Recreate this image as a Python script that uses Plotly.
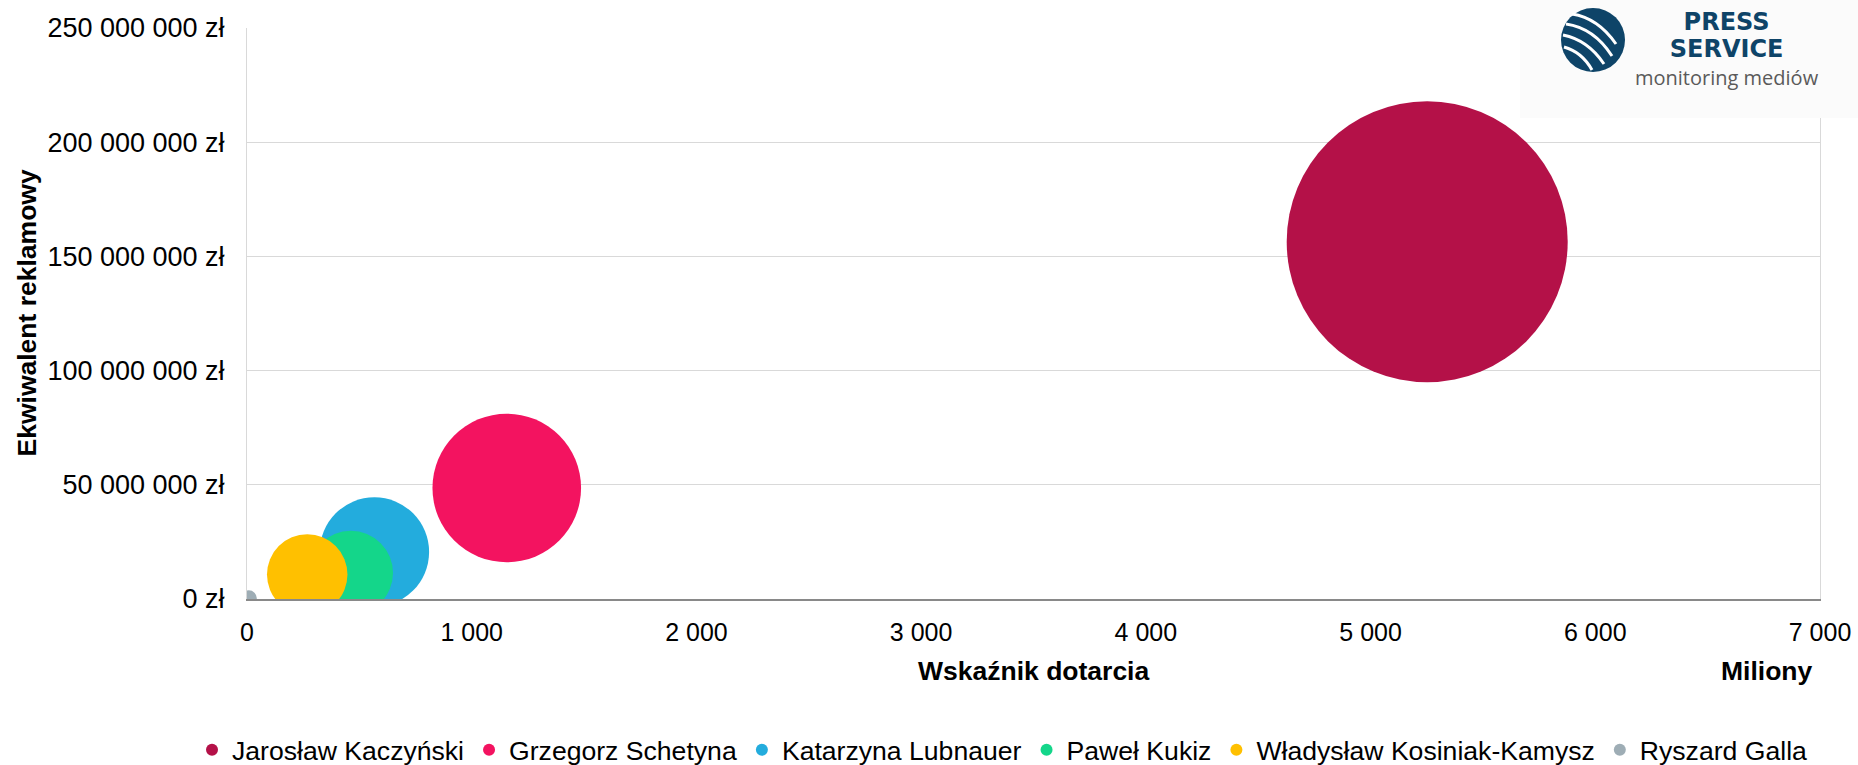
import plotly.graph_objects as go

# ---- data ----
politycy = ["Jarosław Kaczyński", "Grzegorz Schetyna", "Katarzyna Lubnauer",
            "Paweł Kukiz", "Władysław Kosiniak-Kamysz", "Ryszard Galla"]
wskaznik_dotarcia_mln = [5252, 1156, 567, 462, 268, 8]          # x, in millions
ekwiwalent_zl = [156_400_000, 48_600_000, 20_600_000, 11_400_000, 10_700_000, 300_000]
wielkosc_babla = [19740, 5520, 2990, 1780, 1620, 64]             # bubble size (area)
kolory = ["#B41148", "#F31360", "#23ACDD", "#14D68A", "#FFC000", "#9EADB5"]

x_ticks = [0, 1000, 2000, 3000, 4000, 5000, 6000, 7000]
y_ticks = [0, 50_000_000, 100_000_000, 150_000_000, 200_000_000, 250_000_000]


def fmt(v):
    return f"{v:,}".replace(",", " ")


x_ticktext = [fmt(v) for v in x_ticks]
y_ticktext = [fmt(v) + " zł" for v in y_ticks]

W, H = 1858, 765
ML, MR, MT, MB = 247, 38, 28, 166
PW, PH = W - ML - MR, H - MT - MB


def px(x):  # pixel -> paper x
    return (x - ML) / PW


def py(y):  # pixel -> paper y
    return (H - MB - y) / PH


FONT = "Liberation Sans, Arial, sans-serif"

fig = go.Figure()
for name, xv, yv, s, c in zip(politycy, wskaznik_dotarcia_mln, ekwiwalent_zl,
                              wielkosc_babla, kolory):
    fig.add_trace(go.Scatter(
        x=[xv], y=[yv], name=name, mode="markers",
        marker=dict(size=[s], sizemode="area", sizeref=0.5, color=c,
                    line=dict(width=0), opacity=1),
        cliponaxis=True, hoverinfo="skip"))

fig.update_layout(
    width=W, height=H,
    margin=dict(l=ML, r=MR, t=MT, b=MB, pad=0, autoexpand=False),
    paper_bgcolor="white", plot_bgcolor="white",
    font=dict(family=FONT, size=26, color="#000000"),
    showlegend=True,
    legend=dict(orientation="h", x=px(192), xanchor="left", y=py(750), yanchor="middle",
                font=dict(family=FONT, size=26.6, color="#000"), itemsizing="constant",
                bgcolor="rgba(0,0,0,0)", traceorder="normal"),
    xaxis=dict(range=[0, 7000], tickmode="array", tickvals=x_ticks, ticktext=x_ticktext,
               showgrid=False, zeroline=False, showline=True, linecolor="#898989",
               linewidth=2, ticks="", ticklabelstandoff=10,
               tickfont=dict(family=FONT, size=25, color="#000")),
    yaxis=dict(range=[0, 250_000_000], tickmode="array", tickvals=y_ticks,
               ticktext=y_ticktext,
               showgrid=True, gridcolor="#D9D9D9", gridwidth=1, zeroline=False,
               showline=True, linecolor="#D9D9D9", linewidth=1, mirror=True,
               ticks="", ticklabelstandoff=16,
               tickfont=dict(family=FONT, size=27, color="#000")),
)

ann = [
    dict(text="<b>Ekwiwalent reklamowy</b>", x=px(26), y=0.5, textangle=-90),
    dict(text="<b>Wskaźnik dotarcia</b>", x=0.5, y=py(671)),
    dict(text="<b>Miliony</b>", x=px(1767), y=py(671)),
]
for a in ann:
    fig.add_annotation(xref="paper", yref="paper", showarrow=False,
                       xanchor="center", yanchor="middle",
                       font=dict(family=FONT, size=26.5, color="#000"), **a)

# ---- logo box (Press Service) ----
fig.add_shape(type="rect", xref="paper", yref="paper", layer="above",
              x0=px(1520), x1=px(1858), y0=py(118), y1=py(0),
              fillcolor="#FBFBFB", line=dict(width=0))
cx, cy, r = 1593, 40, 32
fig.add_shape(type="circle", xref="paper", yref="paper", layer="above",
              x0=px(cx - r), x1=px(cx + r), y0=py(cy + r), y1=py(cy - r),
              fillcolor="#0E4468", line=dict(width=0))
stripes = [((1572, 14), (1598, 18), (1616, 44)),
           ((1566, 24), (1594, 28), (1612, 56)),
           ((1563, 35), (1588, 40), (1604, 64)),
           ((1564, 47), (1582, 52), (1592, 70))]
for (a0, ctrl, a1) in stripes:
    path = (f"M {px(a0[0])} {py(a0[1])} Q {px(ctrl[0])} {py(ctrl[1])} "
            f"{px(a1[0])} {py(a1[1])}")
    fig.add_shape(type="path", xref="paper", yref="paper", layer="above",
                  path=path, line=dict(color="white", width=3))

logo_text = ("<b><span style='font-size:24px'>PRESS</span></b><br>"
             "<b><span style='font-size:24px'>SERVICE</span></b><br>"
             "<span style='font-size:20px;color:#5A5A5A;font-family:Open Sans'>"
             "monitoring mediów</span>")
fig.add_annotation(xref="paper", yref="paper", showarrow=False, text=logo_text,
                   x=px(1727), y=py(49), xanchor="center", yanchor="middle",
                   align="center",
                   font=dict(family="DejaVu Sans", size=21, color="#0E4468"))

fig.write_html("out.html", config={"displayModeBar": False},
               post_script="document.body.style.margin='0';document.body.style.padding='0';")
